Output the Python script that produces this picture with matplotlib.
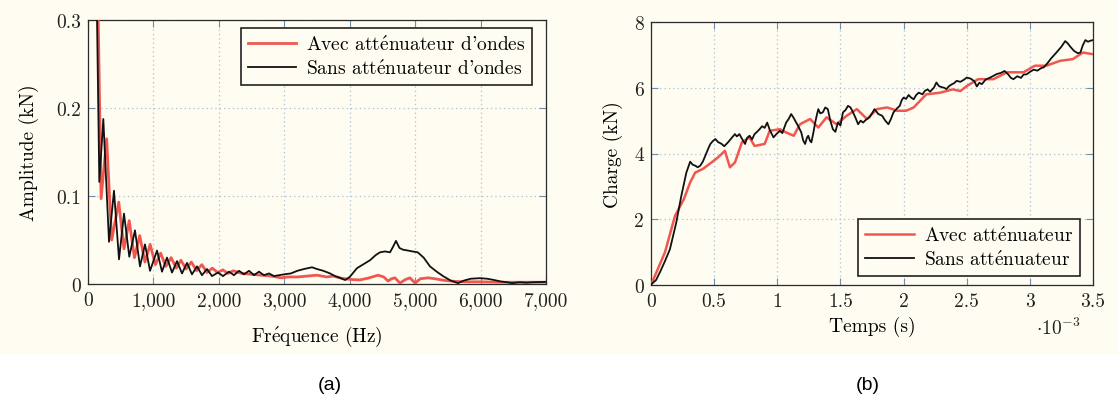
import matplotlib
matplotlib.use("Agg")
import matplotlib.pyplot as plt
from matplotlib.patches import Rectangle

plt.rcParams['mathtext.fontset'] = 'cm'
plt.rcParams['axes.formatter.use_mathtext'] = True
FONT = ['cmr10', 'DejaVu Serif']
EACUTE = r'$\mathrm{\acute{e}}$'

# ---------------- data (a) ----------------
freq_sans = [110, 173, 234, 321, 397, 474, 550, 631, 718, 795,
             871, 948, 1055, 1131, 1207, 1284, 1360, 1437, 1513, 1589,
             1666, 1742, 1819, 1895, 1987, 2063, 2155, 2231, 2308, 2384,
             2461, 2537, 2613, 2690, 2766, 2843, 2920, 3000, 3100, 3200,
             3300, 3424, 3500, 3596, 3700, 3775, 3850, 3928, 4000, 4111,
             4200, 4310, 4400, 4463, 4540, 4616, 4660, 4707, 4760, 4814,
             4890, 4960, 5040, 5130, 5227, 5330, 5426, 5540, 5655, 5750,
             5850, 5991, 6100, 6190, 6300, 6400, 6480, 6600, 6700, 6800,
             6954, 7000]
amp_sans = [0.45, 0.116, 0.1875, 0.048, 0.106, 0.028, 0.080, 0.031, 0.061, 0.020,
            0.045, 0.015, 0.038, 0.014, 0.030, 0.013, 0.026, 0.012, 0.024, 0.011,
            0.020, 0.010, 0.017, 0.009, 0.013, 0.009, 0.014, 0.010, 0.015, 0.011,
            0.015, 0.010, 0.014, 0.010, 0.012, 0.009, 0.010, 0.011, 0.012, 0.015,
            0.017, 0.019, 0.017, 0.015, 0.012, 0.009, 0.007, 0.0045, 0.008, 0.018,
            0.022, 0.027, 0.033, 0.036, 0.037, 0.036, 0.042, 0.049, 0.041, 0.039,
            0.038, 0.037, 0.036, 0.030, 0.020, 0.014, 0.009, 0.004, 0.001, 0.004,
            0.006, 0.0066, 0.006, 0.0048, 0.003, 0.002, 0.001, 0.002, 0.0015, 0.002,
            0.0023, 0.0025]

freq_avec = [125, 200, 285, 362, 470, 550, 630, 710, 790, 870,
             950, 1030, 1110, 1190, 1270, 1350, 1420, 1500, 1580, 1660,
             1740, 1820, 1900, 1980, 2060, 2140, 2220, 2350, 2500, 2650,
             2800, 2950, 3050, 3200, 3350, 3500, 3650, 3750, 3850, 3950,
             4050, 4157, 4300, 4432, 4520, 4585, 4640, 4692, 4768, 4850,
             4920, 5000, 5080, 5200, 5300, 5450, 5600, 5800, 6000, 6250,
             6500, 6750, 7000]
amp_avec = [0.45, 0.097, 0.165, 0.050, 0.093, 0.040, 0.072, 0.030, 0.055, 0.025,
            0.045, 0.022, 0.035, 0.020, 0.030, 0.018, 0.027, 0.017, 0.025, 0.015,
            0.022, 0.013, 0.018, 0.013, 0.016, 0.012, 0.015, 0.012, 0.011, 0.010,
            0.009, 0.007, 0.008, 0.008, 0.009, 0.010, 0.008, 0.009, 0.007, 0.0057,
            0.005, 0.0046, 0.007, 0.010, 0.008, 0.0034, 0.006, 0.007, 0.001, 0.005,
            0.007, 0.001, 0.006, 0.007, 0.006, 0.004, 0.003, 0.0025, 0.0025, 0.002,
            0.002, 0.002, 0.002]

xticks_a = [0, 1000, 2000, 3000, 4000, 5000, 6000, 7000]
xticklabels_a = ['0', '1,000', '2,000', '3,000', '4,000', '5,000', '6,000', '7,000']
yticks_a = [0, 0.1, 0.2, 0.3]
yticklabels_a = ['0', '0.1', '0.2', '0.3']

# ---------------- data (b) ----------------
t_sans = [0, 0.005, 0.04, 0.071, 0.11, 0.15, 0.2, 0.24, 0.28, 0.31,
          0.33, 0.35, 0.37, 0.39, 0.41, 0.43, 0.45, 0.47, 0.49, 0.51,
          0.53, 0.56, 0.58, 0.61, 0.64, 0.665, 0.68, 0.70, 0.72, 0.745,
          0.76, 0.78, 0.80, 0.82, 0.84, 0.86, 0.88, 0.90, 0.92, 0.94,
          0.97, 0.99, 1.02, 1.04, 1.07, 1.09, 1.11, 1.13, 1.15, 1.17,
          1.19, 1.205, 1.22, 1.235, 1.245, 1.26, 1.27, 1.285, 1.30, 1.315,
          1.325, 1.34, 1.36, 1.38, 1.40, 1.42, 1.44, 1.46, 1.48, 1.50,
          1.52, 1.54, 1.56, 1.58, 1.60, 1.62, 1.64, 1.66, 1.68, 1.70,
          1.73, 1.75, 1.77, 1.80, 1.83, 1.855, 1.88, 1.90, 1.92, 1.95,
          1.97, 1.985, 2.0, 2.02, 2.04, 2.06, 2.08, 2.10, 2.12, 2.15,
          2.17, 2.19, 2.21, 2.24, 2.26, 2.28, 2.30, 2.32, 2.34, 2.36,
          2.38, 2.40, 2.42, 2.45, 2.48, 2.50, 2.53, 2.56, 2.58, 2.60,
          2.62, 2.65, 2.68, 2.71, 2.74, 2.77, 2.80, 2.83, 2.85, 2.87,
          2.90, 2.93, 2.95, 2.975, 3.0, 3.03, 3.06, 3.09, 3.11, 3.14,
          3.17, 3.21, 3.25, 3.28, 3.30, 3.32, 3.35, 3.38, 3.40, 3.42,
          3.44, 3.46, 3.48, 3.5]
v_sans = [0, 0.03, 0.15, 0.39, 0.72, 1.09, 1.9, 2.71, 3.42, 3.75,
          3.66, 3.63, 3.58, 3.63, 3.75, 3.93, 4.12, 4.29, 4.38, 4.44,
          4.35, 4.29, 4.22, 4.34, 4.48, 4.59, 4.52, 4.59, 4.45, 4.29,
          4.47, 4.54, 4.43, 4.59, 4.66, 4.74, 4.83, 4.78, 4.94, 4.72,
          4.49, 4.58, 4.69, 4.62, 4.94, 5.05, 5.20, 5.08, 4.94, 4.80,
          4.64, 4.40, 4.29, 4.48, 4.54, 4.38, 4.34, 4.62, 4.94, 5.20,
          5.35, 5.22, 5.25, 5.40, 5.35, 5.00, 4.74, 4.66, 4.94, 4.85,
          5.25, 5.32, 5.45, 5.40, 5.25, 5.08, 4.89, 5.00, 4.94, 5.02,
          5.10, 5.22, 5.35, 5.20, 5.15, 5.00, 4.89, 5.05, 5.25, 5.38,
          5.45, 5.62, 5.70, 5.66, 5.78, 5.70, 5.65, 5.78, 5.85, 5.80,
          5.91, 5.95, 5.88, 6.00, 6.16, 6.05, 6.02, 6.00, 5.96, 6.05,
          6.10, 6.14, 6.21, 6.18, 6.25, 6.31, 6.28, 6.20, 6.04, 6.15,
          6.11, 6.25, 6.30, 6.36, 6.42, 6.45, 6.51, 6.40, 6.30, 6.26,
          6.35, 6.30, 6.40, 6.41, 6.48, 6.55, 6.52, 6.60, 6.62, 6.75,
          6.90, 7.07, 7.25, 7.42, 7.35, 7.25, 7.12, 7.05, 7.07, 7.30,
          7.45, 7.40, 7.43, 7.45]

t_avec = [0, 0.11, 0.19, 0.26, 0.31, 0.35, 0.41, 0.48, 0.53, 0.585,
          0.625, 0.665, 0.72, 0.78, 0.82, 0.90, 0.94, 1.02, 1.07, 1.13,
          1.18, 1.26, 1.325, 1.39, 1.47, 1.55, 1.63, 1.71, 1.79, 1.87,
          1.95, 2.02, 2.08, 2.13, 2.18, 2.29, 2.39, 2.45, 2.50, 2.59,
          2.71, 2.82, 2.95, 3.04, 3.13, 3.24, 3.34, 3.42, 3.5]
v_avec = [0, 0.99, 2.1, 2.61, 3.12, 3.42, 3.53, 3.73, 3.88, 4.08,
          3.58, 3.73, 4.34, 4.49, 4.23, 4.29, 4.69, 4.74, 4.64, 4.54,
          4.89, 5.05, 4.79, 5.10, 4.89, 5.15, 5.35, 5.05, 5.35, 5.40,
          5.30, 5.30, 5.40, 5.60, 5.80, 5.85, 5.95, 5.90, 6.05, 6.26,
          6.26, 6.47, 6.47, 6.67, 6.67, 6.82, 6.87, 7.07, 7.02]

xticks_b = [0, 0.5, 1, 1.5, 2, 2.5, 3, 3.5]
xticklabels_b = ['0', '0.5', '1', '1.5', '2', '2.5', '3', '3.5']
yticks_b = [0, 2, 4, 6, 8]
yticklabels_b = ['0', '2', '4', '6', '8']

RED = '#f2574f'
BLACK = '#111111'
GRID = '#a9c1d6'
TICKC = '#6f8fab'
CREAM = '#fffcf1'
FS = 14

fig = plt.figure(figsize=(11.18, 4.02), dpi=100, facecolor='white')
fig.patches.append(Rectangle((0, 1 - 355 / 402), 1, 355 / 402, transform=fig.transFigure,
                             facecolor=CREAM, edgecolor='none', zorder=-10))

W, H = 1118, 402
def axrect(l, r, t, b):
    return [l / W, 1 - b / H, (r - l) / W, (b - t) / H]

ax1 = fig.add_axes(axrect(88, 546, 21, 285))
ax2 = fig.add_axes(axrect(651, 1093, 23, 286))

def style(ax, xt, xtl, yt, ytl):
    ax.set_facecolor(CREAM)
    ax.set_xticks(xt)
    ax.set_xticklabels(xtl, fontfamily=FONT, fontsize=FS)
    ax.set_yticks(yt)
    ax.set_yticklabels(ytl, fontfamily=FONT, fontsize=FS)
    ax.grid(True, color=GRID, linestyle=(0, (1, 2.5)), linewidth=0.9)
    ax.tick_params(direction='in', length=5, width=0.8, color=TICKC,
                   top=True, right=True, pad=5, labelcolor='#222222')
    for s in ax.spines.values():
        s.set_color('#2b2b2b')
        s.set_linewidth(0.9)

def legend(ax, **kw):
    leg = ax.legend(prop={'family': FONT, 'size': FS}, frameon=True, fancybox=False,
                    edgecolor='#222222', framealpha=1, facecolor=CREAM,
                    handlelength=2.5, borderpad=0.35, labelspacing=0.25,
                    handletextpad=0.5, borderaxespad=0, **kw)
    leg.get_frame().set_linewidth(1.2)
    return leg

ax1.plot(freq_avec, amp_avec, color=RED, lw=2.0,
         label="Avec att" + EACUTE + "nuateur d'ondes", zorder=3)
ax1.plot(freq_sans, amp_sans, color=BLACK, lw=1.3,
         label="Sans att" + EACUTE + "nuateur d'ondes", zorder=4)
ax1.set_xlim(0, 7000)
ax1.set_ylim(0, 0.3)
style(ax1, xticks_a, xticklabels_a, yticks_a, yticklabels_a)
ax1.set_xlabel('Fr' + EACUTE + 'quence (Hz)', fontfamily=FONT, fontsize=FS, labelpad=11)
ax1.set_ylabel('Amplitude (kN)', fontfamily=FONT, fontsize=FS, labelpad=12)
legend(ax1, loc='upper right', bbox_to_anchor=(0.970, 0.970))

ax2.plot(t_avec, v_avec, color=RED, lw=1.8, label='Avec att' + EACUTE + 'nuateur', zorder=3)
ax2.plot(t_sans, v_sans, color=BLACK, lw=1.3, label='Sans att' + EACUTE + 'nuateur', zorder=4)
ax2.set_xlim(0, 3.5)
ax2.set_ylim(0, 8)
style(ax2, xticks_b, xticklabels_b, yticks_b, yticklabels_b)
ax2.set_xlabel('Temps (s)', fontfamily=FONT, fontsize=FS, labelpad=4)
ax2.set_ylabel('Charge (kN)', fontfamily=FONT, fontsize=FS, labelpad=8)
legend(ax2, loc='lower right', bbox_to_anchor=(0.970, 0.035))
fig.text(1058 / W, 1 - 328 / H, r'$\cdot10^{-3}$', fontsize=FS, ha='center', va='center', color='#222222')

fig.text(330 / W, 1 - 386 / H, '(a)', fontsize=14, ha='center', va='center', family='Liberation Sans')
fig.text(868 / W, 1 - 386 / H, '(b)', fontsize=14, ha='center', va='center', family='Liberation Sans')

fig.savefig('out.png', dpi=100, facecolor='white')
